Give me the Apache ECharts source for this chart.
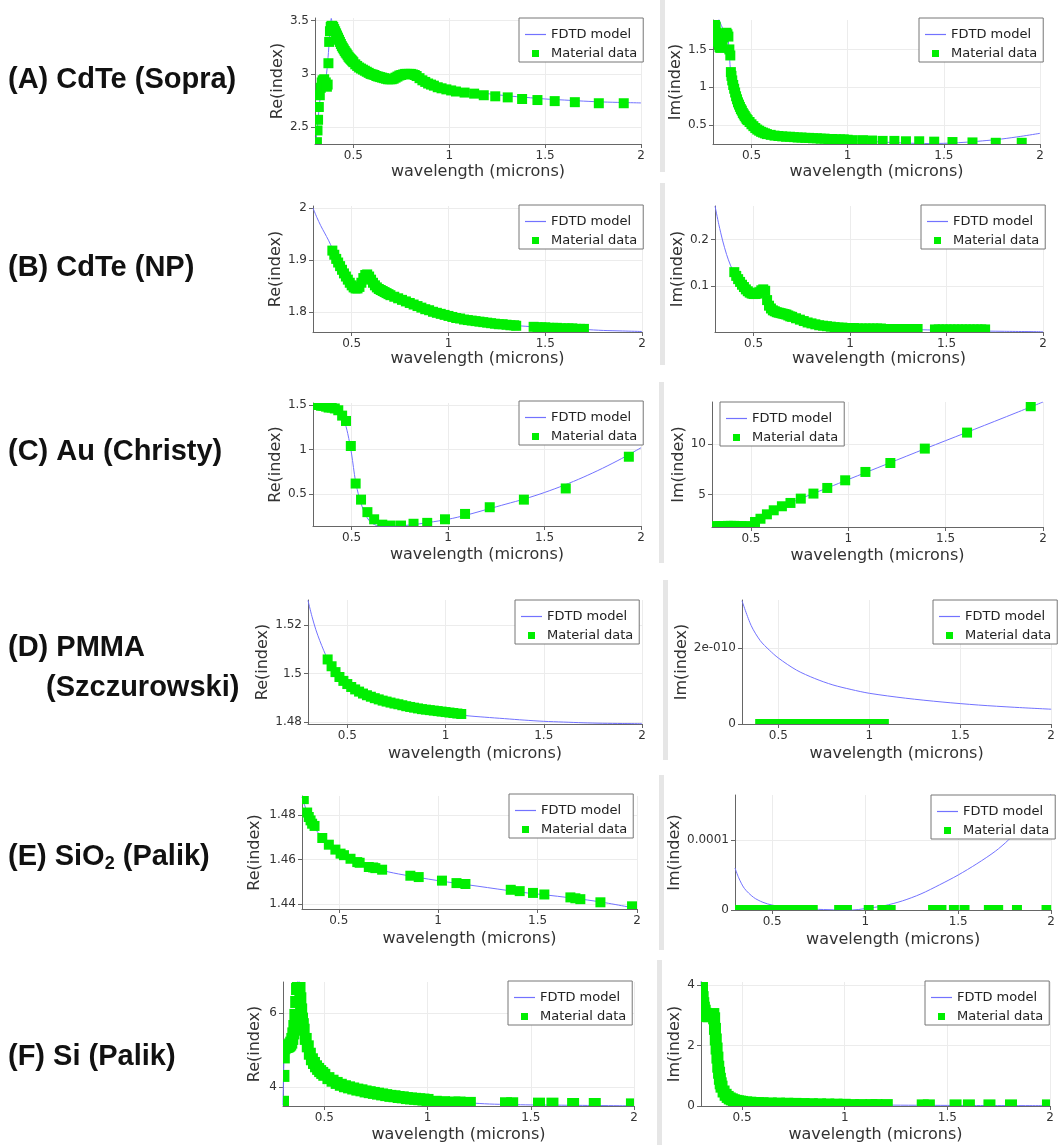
<!DOCTYPE html>
<html>
<head>
<meta charset="utf-8">
<title>Material fits: FDTD model vs material data</title>
<script src="https://cdn.jsdelivr.net/npm/echarts@6/dist/echarts.min.js"></script>
<style>
  html, body { margin: 0; padding: 0; background: #ffffff; }
  #chart { width: 1058px; height: 1145px; }
</style>
</head>
<body>
<div id="chart"></div>
<script>
// ---------- shared axis ticks ----------
const wavelengthTicks = [0.5, 1, 1.5, 2];
const wavelengthTickLabels = ['0.5', '1', '1.5', '2'];

// ---------- (A) CdTe (Sopra) ----------
const cdteSopraReModel = [[0.303,2.34],[0.31,2.45],[0.32,2.65],[0.33,2.82],[0.34,2.9],[0.35,2.93],[0.36,3.0],[0.37,3.2],[0.38,3.45],[0.385,3.52],[0.39,3.47],[0.40,3.42],[0.42,3.35],[0.45,3.26],[0.50,3.12],[0.55,3.04],[0.60,2.995],[0.65,2.96],[0.70,2.945],[0.75,2.965],[0.80,2.975],[0.85,2.945],[0.90,2.905],[1.0,2.86],[1.1,2.835],[1.2,2.815],[1.3,2.795],[1.4,2.78],[1.5,2.765],[1.6,2.755],[1.7,2.745],[1.8,2.737],[1.9,2.732],[2.0,2.728]];
const cdteSopraReData = [[0.310,2.36],[0.313,2.47],[0.316,2.57],[0.320,2.69],[0.325,2.80],[0.330,2.87],[0.335,2.92],[0.340,2.94],[0.348,2.95],[0.356,2.92],[0.362,2.88],[0.366,2.90],[0.370,3.10],[0.374,3.30],[0.378,3.40],[0.382,3.44],[0.386,3.45],[0.390,3.45],[0.395,3.44],[0.400,3.42],[0.405,3.40],[0.410,3.38],[0.415,3.36],[0.420,3.34],[0.425,3.32],[0.430,3.30],[0.435,3.28],[0.440,3.26],[0.445,3.245],[0.450,3.23],[0.455,3.215],[0.460,3.20],[0.465,3.19],[0.470,3.175],[0.475,3.16],[0.480,3.15],[0.485,3.14],[0.490,3.13],[0.495,3.12],[0.500,3.11],[0.510,3.09],[0.520,3.075],[0.530,3.06],[0.540,3.05],[0.550,3.04],[0.560,3.03],[0.570,3.02],[0.580,3.01],[0.590,3.00],[0.600,2.995],[0.610,2.99],[0.620,2.98],[0.630,2.975],[0.640,2.97],[0.650,2.965],[0.660,2.96],[0.670,2.955],[0.680,2.95],[0.690,2.95],[0.700,2.95],[0.710,2.955],[0.720,2.965],[0.730,2.975],[0.740,2.985],[0.750,2.99],[0.760,2.995],[0.770,3.0],[0.780,3.0],[0.790,3.0],[0.800,3.0],[0.810,2.995],[0.820,2.99],[0.830,2.98],[0.845,2.96],[0.860,2.94],[0.875,2.925],[0.890,2.91],[0.905,2.90],[0.920,2.89],[0.940,2.875],[0.960,2.865],[0.985,2.855],[1.010,2.845],[1.035,2.835],[1.080,2.825],[1.130,2.815],[1.180,2.80],[1.240,2.79],[1.305,2.78],[1.380,2.765],[1.460,2.755],[1.550,2.745],[1.655,2.735],[1.780,2.725],[1.910,2.725]];
const cdteSopraReTicks = [2.5, 3, 3.5];
const cdteSopraReTickLabels = ['2.5', '3', '3.5'];

const cdteSopraImModel = [[0.33,1.9],[0.35,1.78],[0.37,1.68],[0.38,1.6],[0.385,1.45],[0.39,1.25],[0.40,1.1],[0.42,0.88],[0.45,0.69],[0.5,0.51],[0.55,0.42],[0.6,0.375],[0.7,0.345],[0.8,0.33],[0.9,0.315],[1.0,0.3],[1.1,0.285],[1.2,0.272],[1.3,0.262],[1.4,0.255],[1.5,0.258],[1.6,0.27],[1.7,0.29],[1.8,0.315],[1.9,0.35],[2.0,0.39]];
const cdteSopraImData = [[0.310,1.85],[0.314,1.80],[0.318,1.72],[0.322,1.65],[0.326,1.60],[0.330,1.56],[0.334,1.53],[0.338,1.52],[0.342,1.53],[0.346,1.55],[0.350,1.60],[0.355,1.66],[0.360,1.70],[0.365,1.71],[0.370,1.72],[0.375,1.70],[0.380,1.67],[0.385,1.50],[0.390,1.42],[0.393,1.20],[0.396,1.15],[0.400,1.09],[0.405,1.03],[0.410,0.98],[0.415,0.93],[0.420,0.88],[0.425,0.84],[0.430,0.80],[0.435,0.77],[0.440,0.74],[0.445,0.71],[0.450,0.69],[0.455,0.66],[0.460,0.64],[0.465,0.62],[0.470,0.60],[0.475,0.58],[0.480,0.565],[0.490,0.54],[0.500,0.51],[0.510,0.485],[0.520,0.46],[0.530,0.44],[0.540,0.425],[0.550,0.41],[0.560,0.40],[0.570,0.39],[0.580,0.38],[0.600,0.37],[0.620,0.36],[0.640,0.355],[0.660,0.35],[0.680,0.345],[0.700,0.345],[0.720,0.34],[0.740,0.335],[0.760,0.335],[0.780,0.33],[0.800,0.33],[0.820,0.325],[0.840,0.325],[0.860,0.32],[0.880,0.32],[0.900,0.315],[0.920,0.315],[0.940,0.31],[0.960,0.31],[0.980,0.31],[1.000,0.305],[1.027,0.30],[1.079,0.30],[1.127,0.295],[1.182,0.29],[1.243,0.29],[1.303,0.285],[1.372,0.285],[1.450,0.28],[1.545,0.275],[1.649,0.27],[1.770,0.265],[1.905,0.265]];
const cdteSopraImTicks = [0.5, 1, 1.5];
const cdteSopraImTickLabels = ['0.5', '1', '1.5'];

// ---------- (B) CdTe (NP) ----------
const cdteNpReModel = [[0.30,2.0],[0.32,1.982],[0.34,1.966],[0.36,1.952],[0.38,1.938],[0.40,1.922],[0.45,1.882],[0.50,1.851],[0.53,1.845],[0.56,1.864],[0.58,1.871],[0.60,1.862],[0.65,1.842],[0.70,1.832],[0.80,1.817],[0.90,1.803],[1.0,1.792],[1.1,1.784],[1.2,1.779],[1.3,1.775],[1.4,1.772],[1.5,1.770],[1.6,1.768],[1.7,1.766],[1.8,1.764],[1.9,1.763],[2.0,1.762]];
const cdteNpReData = [[0.40,1.918],[0.41,1.910],[0.42,1.902],[0.43,1.895],[0.44,1.888],[0.45,1.881],[0.46,1.874],[0.47,1.868],[0.48,1.862],[0.49,1.856],[0.50,1.851],[0.51,1.847],[0.52,1.845],[0.53,1.845],[0.54,1.848],[0.55,1.856],[0.56,1.865],[0.57,1.871],[0.58,1.872],[0.59,1.868],[0.60,1.862],[0.61,1.856],[0.62,1.851],[0.63,1.847],[0.64,1.844],[0.65,1.842],[0.66,1.840],[0.67,1.838],[0.68,1.836],[0.69,1.834],[0.70,1.832],[0.72,1.829],[0.74,1.826],[0.76,1.823],[0.78,1.820],[0.80,1.817],[0.82,1.814],[0.84,1.811],[0.86,1.808],[0.88,1.805],[0.90,1.803],[0.92,1.800],[0.94,1.798],[0.96,1.796],[0.98,1.794],[1.00,1.792],[1.02,1.790],[1.04,1.788],[1.06,1.787],[1.08,1.785],[1.10,1.784],[1.12,1.783],[1.14,1.782],[1.16,1.781],[1.18,1.780],[1.20,1.779],[1.22,1.778],[1.24,1.777],[1.26,1.776],[1.28,1.776],[1.30,1.775],[1.32,1.774],[1.34,1.774],[1.35,1.773],[1.44,1.771],[1.46,1.770],[1.48,1.770],[1.50,1.770],[1.52,1.769],[1.54,1.769],[1.56,1.769],[1.58,1.768],[1.60,1.768],[1.62,1.768],[1.64,1.768],[1.66,1.767],[1.68,1.767],[1.70,1.767]];
const cdteNpReTicks = [1.8, 1.9, 2];
const cdteNpReTickLabels = ['1.8', '1.9', '2'];

const cdteNpImModel = [[0.30,0.272],[0.32,0.232],[0.34,0.197],[0.36,0.168],[0.38,0.145],[0.40,0.128],[0.45,0.097],[0.50,0.083],[0.53,0.087],[0.55,0.093],[0.56,0.09],[0.58,0.058],[0.60,0.048],[0.65,0.041],[0.70,0.034],[0.80,0.02],[0.90,0.013],[1.0,0.01],[1.2,0.008],[1.4,0.006],[1.6,0.004],[1.8,0.003],[2.0,0.002]];
const cdteNpImData = [[0.40,0.130],[0.41,0.122],[0.42,0.115],[0.43,0.109],[0.44,0.103],[0.45,0.098],[0.46,0.093],[0.47,0.089],[0.48,0.086],[0.49,0.084],[0.50,0.083],[0.51,0.083],[0.52,0.084],[0.53,0.087],[0.54,0.091],[0.55,0.093],[0.56,0.090],[0.57,0.070],[0.58,0.058],[0.59,0.052],[0.60,0.048],[0.61,0.046],[0.62,0.044],[0.63,0.043],[0.64,0.042],[0.65,0.041],[0.66,0.040],[0.67,0.039],[0.68,0.037],[0.69,0.035],[0.70,0.034],[0.72,0.031],[0.74,0.028],[0.76,0.025],[0.78,0.022],[0.80,0.020],[0.82,0.018],[0.84,0.016],[0.86,0.015],[0.88,0.014],[0.90,0.013],[0.92,0.012],[0.94,0.011],[0.96,0.011],[0.98,0.010],[1.00,0.010],[1.02,0.010],[1.04,0.009],[1.06,0.009],[1.08,0.009],[1.10,0.009],[1.12,0.009],[1.14,0.009],[1.16,0.009],[1.18,0.008],[1.20,0.008],[1.22,0.008],[1.24,0.008],[1.26,0.008],[1.28,0.008],[1.30,0.008],[1.32,0.008],[1.34,0.008],[1.35,0.008],[1.44,0.007],[1.46,0.007],[1.48,0.007],[1.50,0.007],[1.52,0.007],[1.54,0.007],[1.56,0.007],[1.58,0.007],[1.60,0.007],[1.62,0.007],[1.64,0.007],[1.66,0.007],[1.68,0.007],[1.70,0.007]];
const cdteNpImTicks = [0.1, 0.2];
const cdteNpImTickLabels = ['0.1', '0.2'];

// ---------- (C) Au (Christy) ----------
const auReModel = [[0.3,1.5],[0.35,1.495],[0.4,1.47],[0.43,1.43],[0.46,1.33],[0.48,1.18],[0.5,0.95],[0.52,0.65],[0.54,0.46],[0.56,0.33],[0.58,0.24],[0.6,0.185],[0.62,0.16],[0.64,0.145],[0.7,0.145],[0.8,0.155],[0.9,0.185],[1.0,0.22],[1.1,0.27],[1.2,0.33],[1.3,0.39],[1.4,0.45],[1.5,0.52],[1.6,0.6],[1.7,0.69],[1.8,0.79],[1.9,0.9],[2.0,1.02]];
const auReData = [[0.311,1.50],[0.320,1.50],[0.332,1.50],[0.342,1.49],[0.354,1.49],[0.368,1.48],[0.381,1.47],[0.397,1.47],[0.413,1.46],[0.431,1.44],[0.451,1.38],[0.471,1.32],[0.496,1.04],[0.521,0.62],[0.549,0.44],[0.582,0.30],[0.617,0.22],[0.659,0.16],[0.703,0.15],[0.756,0.15],[0.821,0.17],[0.892,0.18],[0.984,0.22],[1.088,0.28],[1.216,0.355],[1.393,0.44],[1.610,0.565],[1.937,0.92]];
const auReTicks = [0.5, 1, 1.5];
const auReTickLabels = ['0.5', '1', '1.5'];

const auImModel = [[0.3,1.85],[0.35,1.9],[0.4,1.95],[0.45,1.95],[0.48,1.92],[0.5,1.95],[0.52,2.2],[0.55,2.7],[0.6,3.25],[0.65,3.75],[0.7,4.15],[0.8,4.95],[0.9,5.72],[1.0,6.5],[1.2,8.05],[1.4,9.6],[1.6,11.12],[1.8,12.65],[2.0,14.2]];
const auImData = [[0.311,1.84],[0.320,1.84],[0.332,1.85],[0.342,1.86],[0.354,1.87],[0.368,1.88],[0.381,1.89],[0.397,1.89],[0.413,1.89],[0.431,1.88],[0.451,1.87],[0.471,1.86],[0.496,1.84],[0.521,2.28],[0.549,2.6],[0.582,3.04],[0.617,3.44],[0.659,3.84],[0.703,4.17],[0.756,4.6],[0.821,5.1],[0.892,5.66],[0.984,6.42],[1.088,7.25],[1.216,8.14],[1.393,9.57],[1.610,11.16],[1.937,13.78]];
const auImTicks = [5, 10];
const auImTickLabels = ['5', '10'];

// ---------- (D) PMMA (Szczurowski) ----------
const pmmaReModel = [[0.30,1.5300],[0.32,1.5235],[0.34,1.5180],[0.36,1.5135],[0.38,1.5095],[0.40,1.5060],[0.45,1.4992],[0.50,1.4957],[0.60,1.4911],[0.70,1.4885],[0.80,1.4866],[0.90,1.4852],[1.0,1.4842],[1.1,1.4828],[1.2,1.4821],[1.3,1.4815],[1.4,1.4809],[1.5,1.4804],[1.6,1.4801],[1.7,1.4798],[1.8,1.4796],[1.9,1.4795],[2.0,1.4794]];
const pmmaReData = [[0.40,1.5058],[0.42,1.5030],[0.44,1.5006],[0.46,1.4986],[0.48,1.4970],[0.50,1.4957],[0.52,1.4945],[0.54,1.4935],[0.56,1.4926],[0.58,1.4918],[0.60,1.4911],[0.62,1.4905],[0.64,1.4899],[0.66,1.4894],[0.68,1.4889],[0.70,1.4885],[0.72,1.4881],[0.74,1.4877],[0.76,1.4874],[0.78,1.4870],[0.80,1.4866],[0.82,1.4863],[0.84,1.4860],[0.86,1.4857],[0.88,1.4854],[0.90,1.4852],[0.92,1.4850],[0.94,1.4848],[0.96,1.4846],[0.98,1.4844],[1.00,1.4842],[1.02,1.4840],[1.04,1.4838],[1.06,1.4836],[1.08,1.4834]];
const pmmaReTicks = [1.48, 1.5, 1.52];
const pmmaReTickLabels = ['1.48', '1.5', '1.52'];

const pmmaImModel = [[0.30,3.25e-10],[0.35,2.6e-10],[0.40,2.2e-10],[0.45,1.95e-10],[0.50,1.74e-10],[0.60,1.42e-10],[0.70,1.2e-10],[0.80,1.03e-10],[0.90,0.91e-10],[1.0,0.81e-10],[1.2,0.68e-10],[1.4,0.58e-10],[1.6,0.5e-10],[1.8,0.44e-10],[2.0,0.39e-10]];
const pmmaImData = [[0.40,0],[0.42,0],[0.44,0],[0.46,0],[0.48,0],[0.50,0],[0.52,0],[0.54,0],[0.56,0],[0.58,0],[0.60,0],[0.62,0],[0.64,0],[0.66,0],[0.68,0],[0.70,0],[0.72,0],[0.74,0],[0.76,0],[0.78,0],[0.80,0],[0.82,0],[0.84,0],[0.86,0],[0.88,0],[0.90,0],[0.92,0],[0.94,0],[0.96,0],[0.98,0],[1.00,0],[1.02,0],[1.04,0],[1.06,0],[1.08,0]];
const pmmaImTicks = [0, 2e-10];
const pmmaImTickLabels = ['0', '2e-010'];

// ---------- (E) SiO2 (Palik) ----------
const sio2ReModel = [[0.315,1.4880],[0.35,1.4790],[0.40,1.4715],[0.50,1.4635],[0.60,1.4585],[0.70,1.4555],[0.80,1.4535],[1.0,1.4505],[1.2,1.4480],[1.4,1.4455],[1.6,1.4435],[1.8,1.4412],[2.0,1.4380]];
const sio2ReData = [[0.324,1.487],[0.341,1.481],[0.349,1.479],[0.358,1.4775],[0.366,1.476],[0.378,1.475],[0.417,1.4696],[0.450,1.4666],[0.483,1.4644],[0.509,1.4626],[0.526,1.4619],[0.559,1.4603],[0.593,1.4588],[0.605,1.4585],[0.651,1.4566],[0.673,1.4564],[0.684,1.4561],[0.718,1.4554],[0.860,1.4527],[0.902,1.4521],[1.019,1.4505],[1.092,1.4494],[1.137,1.449],[1.365,1.4464],[1.410,1.4458],[1.477,1.445],[1.534,1.4443],[1.665,1.443],[1.690,1.4426],[1.715,1.4422],[1.816,1.4408],[1.975,1.439]];
const sio2ReTicks = [1.44, 1.46, 1.48];
const sio2ReTickLabels = ['1.44', '1.46', '1.48'];

const sio2ImModel = [[0.30,0.6e-4],[0.32,0.46e-4],[0.35,0.31e-4],[0.40,0.18e-4],[0.45,0.11e-4],[0.50,0.07e-4],[0.55,0.05e-4],[0.60,0.035e-4],[0.70,0.015e-4],[0.80,0.005e-4],[0.93,0],[1.0,0.02e-4],[1.1,0.06e-4],[1.2,0.13e-4],[1.3,0.23e-4],[1.4,0.36e-4],[1.5,0.5e-4],[1.6,0.66e-4],[1.7,0.84e-4],[1.77,1.0e-4],[1.85,1.22e-4],[1.95,1.5e-4],[2.0,1.66e-4]];
const sio2ImData = [[0.324,0],[0.341,0],[0.349,0],[0.358,0],[0.366,0],[0.378,0],[0.417,0],[0.450,0],[0.483,0],[0.509,0],[0.526,0],[0.559,0],[0.593,0],[0.605,0],[0.651,0],[0.673,0],[0.684,0],[0.718,0],[0.860,0],[0.902,0],[1.019,0],[1.092,0],[1.137,0],[1.365,0],[1.410,0],[1.477,0],[1.534,0],[1.665,0],[1.690,0],[1.715,0],[1.816,0],[1.975,0]];
const sio2ImTicks = [0, 1e-4];
const sio2ImTickLabels = ['0', '0.0001'];

// ---------- (F) Si (Palik) ----------
const siReModel = [[0.3,3.5],[0.305,4.8],[0.31,5.05],[0.33,5.12],[0.35,5.45],[0.36,5.95],[0.368,6.65],[0.375,7.0],[0.385,6.3],[0.40,5.55],[0.42,5.1],[0.45,4.65],[0.5,4.33],[0.6,4.02],[0.7,3.88],[0.8,3.78],[0.9,3.7],[1.0,3.65],[1.1,3.6],[1.2,3.57],[1.3,3.54],[1.4,3.525],[1.5,3.515],[1.6,3.51],[1.7,3.505],[1.8,3.5],[1.9,3.495],[2.0,3.49]];
const siReData = [[0.300,3.60],[0.302,4.30],[0.304,4.80],[0.307,5.05],[0.310,5.08],[0.315,5.08],[0.320,5.09],[0.325,5.10],[0.330,5.12],[0.335,5.15],[0.340,5.20],[0.345,5.30],[0.350,5.45],[0.355,5.65],[0.360,5.95],[0.364,6.30],[0.368,6.65],[0.372,6.90],[0.376,6.90],[0.380,6.70],[0.384,6.40],[0.388,6.10],[0.392,5.85],[0.396,5.70],[0.400,5.55],[0.41,5.30],[0.42,5.10],[0.43,4.90],[0.44,4.75],[0.45,4.65],[0.46,4.56],[0.47,4.49],[0.48,4.43],[0.49,4.38],[0.50,4.33],[0.52,4.24],[0.54,4.17],[0.56,4.11],[0.58,4.06],[0.60,4.02],[0.62,3.99],[0.64,3.96],[0.66,3.93],[0.68,3.91],[0.70,3.88],[0.72,3.86],[0.74,3.84],[0.76,3.82],[0.78,3.80],[0.80,3.78],[0.82,3.76],[0.84,3.75],[0.86,3.73],[0.88,3.72],[0.90,3.70],[0.92,3.69],[0.94,3.68],[0.96,3.67],[0.98,3.66],[1.00,3.65],[1.040,3.60],[1.080,3.59],[1.130,3.58],[1.155,3.58],[1.205,3.57],[1.380,3.56],[1.410,3.56],[1.540,3.55],[1.605,3.55],[1.705,3.54],[1.810,3.54],[1.990,3.53]];
const siReTicks = [4, 6];
const siReTickLabels = ['4', '6'];

const siImModel = [[0.3,4.15],[0.31,3.45],[0.33,3.0],[0.36,3.05],[0.37,2.3],[0.38,1.6],[0.39,1.0],[0.40,0.65],[0.42,0.38],[0.45,0.22],[0.5,0.135],[0.6,0.09],[0.8,0.065],[1.0,0.04],[1.2,0.03],[1.5,0.02],[2.0,0.01]];
const siImData = [[0.302,4.10],[0.305,3.90],[0.308,3.60],[0.311,3.40],[0.314,3.25],[0.318,3.15],[0.322,3.05],[0.326,3.00],[0.330,2.98],[0.335,2.97],[0.340,2.97],[0.345,2.98],[0.350,3.00],[0.355,3.02],[0.360,3.04],[0.364,2.90],[0.368,2.55],[0.372,2.20],[0.376,1.90],[0.380,1.60],[0.384,1.30],[0.388,1.10],[0.392,0.90],[0.396,0.75],[0.400,0.64],[0.41,0.48],[0.42,0.37],[0.43,0.30],[0.44,0.25],[0.45,0.22],[0.46,0.19],[0.47,0.17],[0.48,0.155],[0.49,0.145],[0.50,0.135],[0.52,0.12],[0.54,0.11],[0.56,0.10],[0.58,0.095],[0.60,0.09],[0.64,0.085],[0.68,0.08],[0.72,0.075],[0.76,0.07],[0.80,0.065],[0.84,0.06],[0.88,0.055],[0.92,0.05],[0.96,0.045],[1.00,0.04],[1.040,0.03],[1.080,0.03],[1.130,0.03],[1.155,0.03],[1.205,0.03],[1.380,0.02],[1.410,0.02],[1.540,0.02],[1.605,0.02],[1.705,0.02],[1.810,0.02],[1.990,0.02]];
const siImTicks = [0, 2, 4];
const siImTickLabels = ['0', '2', '4'];

// ---------- panel layout (pixel boxes of each plot) ----------
const panels = [
  { box: [315, 18, 326, 126],  xMin: 0.3,   yRange: [2.343, 3.524],    yName: 'Re(index)', yGap: 28, xGap: 20, legendAt: [519, 18],  sq: 10, model: cdteSopraReModel, data: cdteSopraReData, ticks: cdteSopraReTicks, labels: cdteSopraReTickLabels },
  { box: [713, 20, 327, 124],  xMin: 0.3,   yRange: [0.249, 1.889],    yName: 'Im(index)', yGap: 27, xGap: 20, legendAt: [919, 18],  sq: 10, model: cdteSopraImModel, data: cdteSopraImData, ticks: cdteSopraImTicks, labels: cdteSopraImTickLabels },
  { box: [313, 206, 329, 126], xMin: 0.3,   yRange: [1.761, 2.004],    yName: 'Re(index)', yGap: 27, xGap: 14, legendAt: [519, 205], sq: 10, model: cdteNpReModel, data: cdteNpReData, ticks: cdteNpReTicks, labels: cdteNpReTickLabels },
  { box: [715, 206, 328, 126], xMin: 0.3,   yRange: [0.0015, 0.272],   yName: 'Im(index)', yGap: 27, xGap: 14, legendAt: [921, 205], sq: 10, model: cdteNpImModel, data: cdteNpImData, ticks: cdteNpImTicks, labels: cdteNpImTickLabels },
  { box: [313, 403, 328, 123], xMin: 0.3,   yRange: [0.145, 1.521],    yName: 'Re(index)', yGap: 28, xGap: 21, legendAt: [519, 401], sq: 10, model: auReModel, data: auReData, ticks: auReTicks, labels: auReTickLabels },
  { box: [712, 402, 331, 125], xMin: 0.3,   yRange: [1.78, 14.2],      yName: 'Im(index)', yGap: 24, xGap: 21, legendAt: [720, 402], sq: 10, model: auImModel, data: auImData, ticks: auImTicks, labels: auImTickLabels },
  { box: [308, 600, 334, 124], xMin: 0.3,   yRange: [1.4793, 1.5302],  yName: 'Re(index)', yGap: 37, xGap: 22, legendAt: [515, 600], sq: 10, model: pmmaReModel, data: pmmaReData, ticks: pmmaReTicks, labels: pmmaReTickLabels },
  { box: [742, 600, 318, 124], xMin: 0.3,   yRange: [0, 3.27e-10],     yName: 'Im(index)', yGap: 52, xGap: 22, legendAt: [933, 600], sq: 10, model: pmmaImModel, data: pmmaImData, ticks: pmmaImTicks, labels: pmmaImTickLabels },
  { box: [302, 796, 335, 113], xMin: 0.315, yRange: [1.4378, 1.4884],  yName: 'Re(index)', yGap: 39, xGap: 22, legendAt: [509, 794], sq: 10, model: sio2ReModel, data: sio2ReData, ticks: sio2ReTicks, labels: sio2ReTickLabels },
  { box: [735, 795, 322, 115], xMin: 0.3,   yRange: [0, 1.643e-4],     yName: 'Im(index)', yGap: 48, xGap: 22, legendAt: [931, 795], sq: 10, model: sio2ImModel, data: sio2ImData, ticks: sio2ImTicks, labels: sio2ImTickLabels },
  { box: [283, 982, 351, 124], xMin: 0.3,   yRange: [3.486, 6.84],     yName: 'Re(index)', yGap: 20, xGap: 21, legendAt: [508, 981], sq: 12, model: siReModel, data: siReData, ticks: siReTicks, labels: siReTickLabels },
  { box: [701, 982, 349, 124], xMin: 0.3,   yRange: [0, 4.1],          yName: 'Im(index)', yGap: 18, xGap: 21, legendAt: [925, 981], sq: 12, model: siImModel, data: siImData, ticks: siImTicks, labels: siImTickLabels }
];

const FONT = 'DejaVu Sans';
const AXIS_COLOR = '#666666';
const TEXT_COLOR = '#333333';
const MODEL_COLOR = '#7272ff';
const DATA_COLOR = '#00ee00';

function labelFor(values, texts) {
  return function (v) {
    for (let k = 0; k < values.length; k++) {
      if (Math.abs(values[k] - v) <= Math.abs(values[k]) * 1e-9 + 1e-30) return texts[k];
    }
    return '';
  };
}

// Square markers clipped to the plot box, so points on the frame show as half squares
function squareMarker(size) {
  return function (params, api) {
    const c = api.coord([api.value(0), api.value(1)]);
    const cs = params.coordSys;
    const shape = echarts.graphic.clipRectByRect(
      { x: c[0] - size / 2, y: c[1] - size / 2, width: size, height: size },
      { x: cs.x, y: cs.y, width: cs.width, height: cs.height }
    );
    if (!shape) return null;
    return { type: 'rect', shape: shape, style: { fill: DATA_COLOR } };
  };
}

const grid = [], xAxis = [], yAxis = [], series = [], legend = [];

panels.forEach((p, i) => {
  grid.push({ left: p.box[0], top: p.box[1], width: p.box[2], height: p.box[3], containLabel: false });

  xAxis.push({
    type: 'value', gridIndex: i, min: p.xMin, max: 2,
    name: 'wavelength (microns)', nameLocation: 'middle', nameGap: p.xGap,
    nameTextStyle: { fontFamily: FONT, fontSize: 16, color: TEXT_COLOR },
    axisLine: { show: true, onZero: false, lineStyle: { color: AXIS_COLOR, width: 1 } },
    axisTick: { show: true, inside: false, length: 4, customValues: wavelengthTicks, lineStyle: { color: AXIS_COLOR } },
    axisLabel: { customValues: wavelengthTicks, formatter: labelFor(wavelengthTicks, wavelengthTickLabels),
                 fontFamily: FONT, fontSize: 12, color: TEXT_COLOR, margin: 6 },
    splitLine: { show: true, lineStyle: { color: '#ececec', width: 1 } }
  });

  yAxis.push({
    type: 'value', gridIndex: i, min: p.yRange[0], max: p.yRange[1],
    name: p.yName, nameLocation: 'middle', nameGap: p.yGap,
    nameTextStyle: { fontFamily: FONT, fontSize: 16, color: TEXT_COLOR },
    axisLine: { show: true, onZero: false, lineStyle: { color: AXIS_COLOR, width: 1 } },
    axisTick: { show: true, inside: false, length: 4, customValues: p.ticks, lineStyle: { color: AXIS_COLOR } },
    axisLabel: { customValues: p.ticks, formatter: labelFor(p.ticks, p.labels),
                 fontFamily: FONT, fontSize: 12, color: TEXT_COLOR, margin: 6 },
    splitLine: { show: true, lineStyle: { color: '#ececec', width: 1 } }
  });

  series.push({
    type: 'line', name: 'FDTD model', xAxisIndex: i, yAxisIndex: i,
    data: p.model, symbol: 'none', smooth: 0.3, clip: true,
    lineStyle: { color: MODEL_COLOR, width: 1 }, itemStyle: { color: MODEL_COLOR }, z: 2
  });
  series.push({
    type: 'custom', name: 'Material data', xAxisIndex: i, yAxisIndex: i,
    coordinateSystem: 'cartesian2d', data: p.data, encode: { x: 0, y: 1 },
    renderItem: squareMarker(p.sq), itemStyle: { color: DATA_COLOR }, z: 3
  });

  legend.push({
    left: p.legendAt[0], top: p.legendAt[1], orient: 'vertical',
    data: [
      { name: 'FDTD model', icon: 'path://M0,0H21V1.2H0Z', itemStyle: { color: MODEL_COLOR } },
      { name: 'Material data', icon: 'path://M0,0H1V1H0Z', itemStyle: { color: DATA_COLOR } }
    ],
    selectedMode: false,
    itemWidth: 21, itemHeight: 7, itemGap: 6, padding: [10, 6, 2, 6],
    backgroundColor: '#ffffff', borderColor: '#777777', borderWidth: 1, borderRadius: 0,
    textStyle: { fontFamily: FONT, fontSize: 13, color: '#222222' }
  });
});

// Row captions on the left
const captionStyle = {
  fontFamily: 'Liberation Sans', fontWeight: 'bold', fontSize: 29, color: '#111111', lineHeight: 32,
  rich: {
    sub: { fontFamily: 'Liberation Sans', fontWeight: 'bold', fontSize: 18, color: '#111111', lineHeight: 10, verticalAlign: 'bottom' }
  }
};
const captions = [
  { text: '(A) CdTe (Sopra)', left: 8, top: 64 },
  { text: '(B) CdTe (NP)', left: 8, top: 252 },
  { text: '(C) Au (Christy)', left: 8, top: 436 },
  { text: '(D) PMMA', left: 8, top: 632 },
  { text: '(Szczurowski)', left: 46, top: 672 },
  { text: '(E) SiO{sub|2} (Palik)', left: 8, top: 841 },
  { text: '(F) Si (Palik)', left: 8, top: 1041 }
];
const title = captions.map(c => ({ text: c.text, left: c.left, top: c.top, padding: 0, textStyle: captionStyle }));

// Thin grey dividers between the two columns
const dividerColor = '#e6e6e6';
const graphic = [
  [660, 0, 172], [660, 183, 182], [659, 382, 181], [663, 580, 180], [659, 775, 175], [657, 960, 185]
].map(d => ({ type: 'rect', shape: { x: d[0], y: d[1], width: 5, height: d[2] }, style: { fill: dividerColor }, silent: true, z: -10 }));

const chart = echarts.init(document.getElementById('chart'), null, { renderer: 'canvas' });
chart.setOption({
  animation: false,
  backgroundColor: '#ffffff',
  title, grid, xAxis, yAxis, series, legend, graphic
});
</script>
</body>
</html>
